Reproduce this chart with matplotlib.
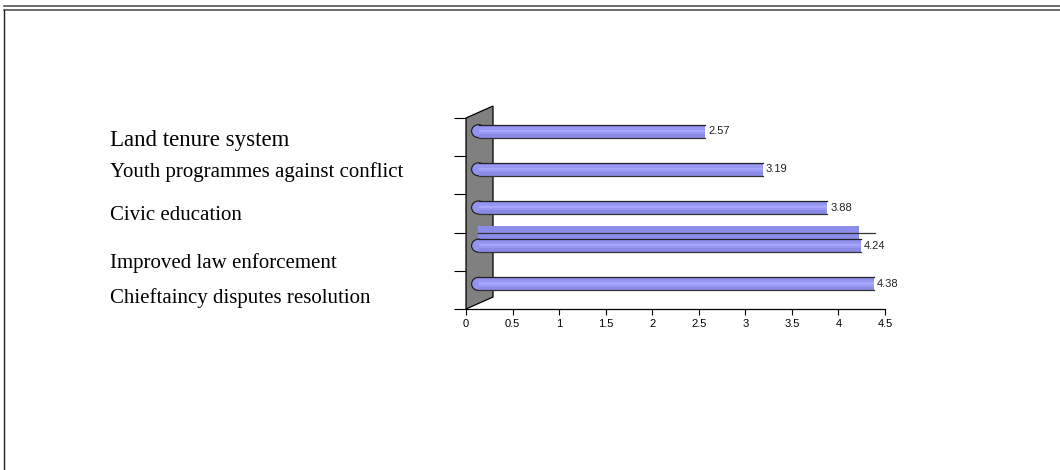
import numpy as np
import matplotlib.pyplot as plt
from matplotlib.patches import Polygon, Rectangle, Ellipse
from matplotlib.lines import Line2D

# categorías (de abajo hacia arriba) y puntuaciones medias
categorias = ['Chieftaincy disputes resolution', 'Improved law enforcement',
              'Civic education', 'Youth programmes against conflict',
              'Land tenure system']
valores = [4.38, 4.24, 3.88, 3.19, 2.57]
ticks_x = [0, 0.5, 1, 1.5, 2, 2.5, 3, 3.5, 4, 4.5]

W, H = 1060, 470
fig = plt.figure(figsize=(W / 100, H / 100), dpi=100)
fig.patch.set_facecolor('white')

# marco de la página: doble línea arriba, línea a la izquierda
fig.add_artist(Line2D([4 / W, 1], [1 - 6 / H, 1 - 6 / H], color='#555555', lw=1.2))
fig.add_artist(Line2D([4 / W, 1], [1 - 10 / H, 1 - 10 / H], color='#555555', lw=1.2))
fig.add_artist(Line2D([4 / W, 4 / W], [0, 1 - 10 / H], color='#222222', lw=1.0))

ax = fig.add_axes([466 / W, (H - 309) / H, (885 - 466) / W, (309 - 118) / H])
ax.set_xlim(0, 4.5)
ax.set_ylim(0, 5)

# pared gris en perspectiva
dx, dy = 0.29, 0.314
pared = Polygon([(0, 0), (0, 5), (dx, 5 + dy), (dx, dy)], closed=True,
                facecolor='#808080', edgecolor='black', lw=0.9, clip_on=False, zorder=1)
ax.add_patch(pared)

alto = 0.34
x0 = 0.135
franjas = [(0.0, 0.30, '#8A8AE6'), (0.30, 0.45, '#9898F2'), (0.45, 0.62, '#A6A6FC'),
           (0.62, 0.80, '#9898F2'), (0.80, 1.0, '#9090EE')]

for i, v in enumerate(valores):
    yc = i + 0.5 + 0.157
    yb = yc - alto / 2
    # tapa redondeada a la izquierda
    ax.add_patch(Ellipse((x0, yc), 0.15, alto, facecolor='#9494F0',
                         edgecolor='#222222', lw=0.9, zorder=3))
    for a, b, c in franjas:
        ax.add_patch(Rectangle((x0, yb + a * alto), v - x0, (b - a) * alto,
                               facecolor=c, edgecolor='none', zorder=4))
    ax.plot([x0, v], [yb + alto, yb + alto], color='#222222', lw=0.9, zorder=5)
    ax.plot([x0, v], [yb, yb], color='#333333', lw=0.9, zorder=5)
    ax.text(v + 0.03, yc, f'{v:.2f}', fontsize=8, family='Liberation Sans',
            va='center', ha='left', color='#222222')

# barra plana superpuesta en la segunda categoría
ax.add_patch(Rectangle((0.13, 1.83), valores[1] - 0.13 - 0.02, 0.34,
                       facecolor='#8C8CEA', edgecolor='none', zorder=2.5))
ax.plot([0.13, 4.39], [2, 2], color='#333333', lw=0.9, zorder=2.6)

# ejes
for s in ['top', 'right', 'left']:
    ax.spines[s].set_visible(False)
ax.spines['bottom'].set_linewidth(0.9)
ax.set_xticks(ticks_x)
ax.set_xticklabels([f'{t:g}' for t in ticks_x], fontsize=8, family='Liberation Sans')
ax.tick_params(axis='x', direction='out', length=4, width=0.8, pad=3)
ax.set_yticks(range(6))
ax.set_yticklabels([])
ax.tick_params(axis='y', direction='out', length=9, width=0.8)
ax.set_facecolor('none')

# etiquetas de las categorías a la izquierda
pos_y = [303, 268, 220, 177, 146]
tam = [15, 15, 15, 15, 16.5]
for nombre, yb_, t in zip(categorias, pos_y, tam):
    fig.text(110 / W, (H - yb_) / H, nombre, fontsize=t,
             family='Liberation Serif', va='baseline', ha='left')

fig.savefig('out.png', dpi=100)
